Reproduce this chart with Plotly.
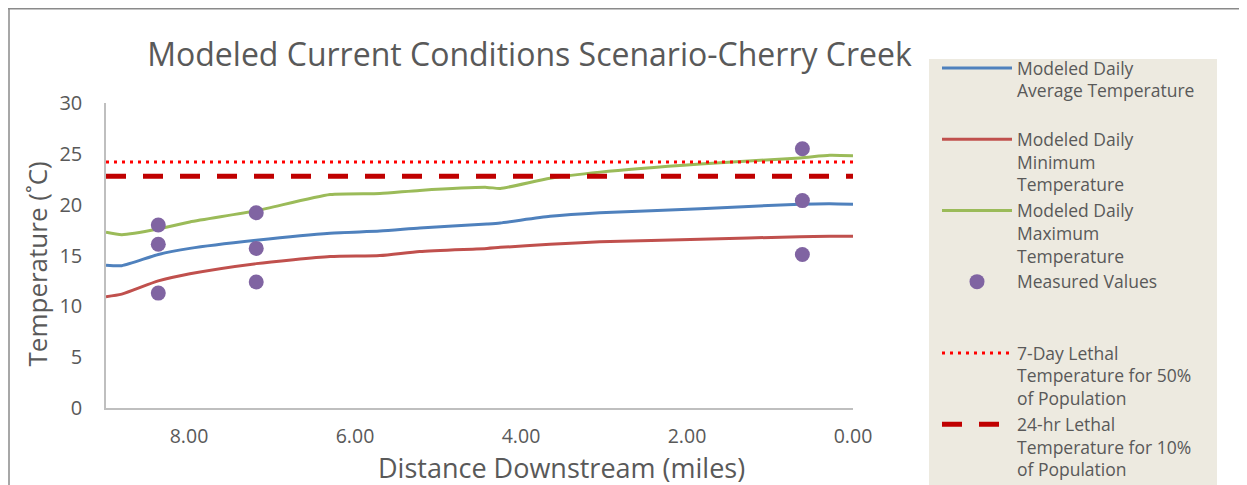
import plotly.graph_objects as go

# ---- data ----
model_miles = [9.0, 8.81, 8.37, 7.99, 7.19, 6.30, 5.70, 5.22, 4.41, 4.25, 3.65, 3.05, 1.84, 0.64, 0.28, 0.0]
avg_temp = [14.05, 14.0, 15.1, 15.7, 16.5, 17.2, 17.4, 17.7, 18.1, 18.2, 18.85, 19.2, 19.6, 20.05, 20.1, 20.05]
min_temp = [10.95, 11.2, 12.5, 13.2, 14.2, 14.9, 15.0, 15.4, 15.7, 15.8, 16.1, 16.35, 16.6, 16.85, 16.9, 16.9]
max_temp = [17.3, 17.05, 17.6, 18.3, 19.4, 21.0, 21.1, 21.4, 21.7, 21.6, 22.6, 23.2, 24.0, 24.6, 24.85, 24.8]

measured_miles = [8.37, 8.37, 8.37, 7.19, 7.19, 7.19, 0.61, 0.61, 0.61]
measured_temp = [18.0, 16.1, 11.3, 19.2, 15.7, 12.4, 25.5, 20.4, 15.1]

lethal_range_miles = [9.0, 0.0]
lethal_7day_50 = [24.2, 24.2]
lethal_24hr_10 = [22.8, 22.8]

x_ticks = [8, 6, 4, 2, 0]
y_ticks = [0, 5, 10, 15, 20, 25, 30]

names = [
    "Modeled Daily<br>Average Temperature<br> ",
    "Modeled Daily<br>Minimum<br>Temperature",
    "Modeled Daily<br>Maximum<br>Temperature",
    "Measured Values<br> <br> ",
    "7-Day Lethal<br>Temperature for 50%<br>of Population",
    "24-hr Lethal<br>Temperature for 10%<br>of Population",
]

FONT = "Open Sans"
TXT = "#595959"

fig = go.Figure()
fig.add_trace(go.Scatter(x=model_miles, y=avg_temp, mode="lines", name=names[0],
                         line=dict(color="#4F81BD", width=3, shape="spline", smoothing=0.6)))
fig.add_trace(go.Scatter(x=model_miles, y=min_temp, mode="lines", name=names[1],
                         line=dict(color="#C0504D", width=3, shape="spline", smoothing=0.6)))
fig.add_trace(go.Scatter(x=model_miles, y=max_temp, mode="lines", name=names[2],
                         line=dict(color="#9BBB59", width=3, shape="spline", smoothing=0.6)))
fig.add_trace(go.Scatter(x=measured_miles, y=measured_temp, mode="markers", name=names[3],
                         marker=dict(color="#8064A2", size=15)))
fig.add_trace(go.Scatter(x=lethal_range_miles, y=lethal_7day_50, mode="lines", name=names[4],
                         line=dict(color="#FF0000", width=3, dash="3px,5px")))
fig.add_trace(go.Scatter(x=lethal_range_miles, y=lethal_24hr_10, mode="lines", name=names[5],
                         line=dict(color="#C00000", width=5, dash="20px,17px")))

# page offset of the figure inside the html body (default body margin)
OFF = 8
W, H = 1247, 485
L, T = 106 - OFF, 103 - OFF
pw, ph = 747, 305
R = W - L - pw
B = H - T - ph

def px(xp):
    """page x pixel -> paper x"""
    return (xp - OFF - L) / pw

def py(yp):
    """page y pixel -> paper y"""
    return (T + ph - (yp - OFF)) / ph

fig.update_layout(
    width=W, height=H,
    margin=dict(l=L, r=R, t=T, b=B, autoexpand=False),
    paper_bgcolor="white", plot_bgcolor="white",
    font=dict(family=FONT, color=TXT),
    title=dict(text="Modeled Current Conditions Scenario-Cherry Creek",
               xref="container", yref="container", x=(529.5 - OFF) / W, xanchor="center",
               y=1 - (55 - OFF) / H, yanchor="middle",
               font=dict(size=32, color=TXT, family=FONT)),
    xaxis=dict(range=[9, 0], tickvals=x_ticks, tickformat=".2f",
               showgrid=False, zeroline=False, showline=True, linecolor="#BFBFBF", linewidth=1.5,
               ticks="", ticklabelstandoff=10,
               tickfont=dict(size=19.5, color=TXT, family=FONT)),
    yaxis=dict(range=[0, 30], tickvals=y_ticks,
               showgrid=False, zeroline=False, showline=True, linecolor="#BFBFBF", linewidth=1.5,
               ticks="", ticklabelstandoff=18,
               tickfont=dict(size=20, color=TXT, family=FONT)),
    legend=dict(x=px(937), y=py(50), xanchor="left", yanchor="top",
                bgcolor="rgba(0,0,0,0)", font=dict(size=17.5, color=TXT, family=FONT),
                itemwidth=70, valign="top", traceorder="normal", maxheight=470),
    showlegend=True,
    annotations=[
        dict(text="Distance Downstream (miles)", xref="paper", yref="paper",
             x=px(561), y=py(467.5), xanchor="center", yanchor="middle", showarrow=False,
             font=dict(size=27, color=TXT, family=FONT)),
        dict(text="Temperature (˚C)", xref="paper", yref="paper", textangle=-90,
             x=px(36), y=py(264.5), xanchor="center", yanchor="middle", showarrow=False,
             font=dict(size=26, color=TXT, family=FONT)),
    ],
    shapes=[
        dict(type="rect", xref="paper", yref="paper", x0=px(929), x1=px(1217), y0=py(495), y1=py(59),
             fillcolor="#EDEAE0", line=dict(width=0), layer="below"),
        dict(type="line", xref="paper", yref="paper", x0=px(9), x1=px(9), y0=py(8.75), y1=py(495),
             line=dict(color="#8A8A8A", width=1.5)),
        dict(type="line", xref="paper", yref="paper", x0=px(8), x1=px(1260), y0=py(8.75), y1=py(8.75),
             line=dict(color="#8A8A8A", width=1.5)),
    ],
)

fig.write_html("out.html")
